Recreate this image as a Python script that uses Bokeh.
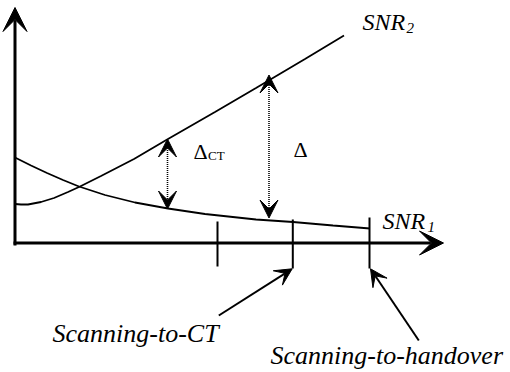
from bokeh.plotting import figure
from bokeh.models import Range1d, Arrow, VeeHead, ColumnDataSource
from bokeh.core.properties import value
from bokeh.embed import file_html
from bokeh.resources import INLINE

# ---- data (schematic units, origin at the axes corner) ----
snr1_x = [0, 16, 32, 48, 64, 90, 120, 153, 190, 241, 278, 318, 355]
snr1_y = [85.5, 77.5, 70, 63, 56.5, 48, 40.5, 34.5, 29, 23.5, 21, 17.5, 14.5]

snr2_x = [0, 6, 13, 26, 39, 53, 64, 86, 119, 153, 200, 241, 290, 329]
snr2_y = [39, 38.5, 38.5, 41, 45, 51, 56, 67, 84, 104, 131, 155, 184, 207.5]

tick_x = [202.5, 277.8, 354.5]
tick_top = [21.5, 23.5, 25.5]
tick_bottom = [-23.5, -25.5, -25.5]

axis_x0 = [0, -1.5]
axis_y0 = [-2.5, 0]
axis_x1 = [0, 428.5]
axis_y1 = [235.5, 0]

delta_x = [152.5, 254]
delta_top = [104, 168]
delta_bottom = [34, 25]

label_arrow_x0 = [203.8, 403.8]
label_arrow_y0 = [-72.5, -97.5]
label_arrow_x1 = [277.2, 355.5]
label_arrow_y1 = [-25.8, -25.8]

FONT = value("Liberation Serif")

p = figure(width=510, height=372, output_backend="svg", toolbar_location=None,
           x_range=Range1d(-14.5, 495.5), y_range=Range1d(-129.5, 242.5),
           min_border=0, min_border_left=0, min_border_right=0,
           min_border_top=0, min_border_bottom=0)
p.xaxis.visible = False
p.yaxis.visible = False
p.grid.visible = False
p.outline_line_color = None
p.background_fill_color = "white"
p.border_fill_color = "white"

# curves
p.line(snr1_x, snr1_y, line_color="black", line_width=1.8)
p.line(snr2_x, snr2_y, line_color="black", line_width=1.8)

# ticks
p.segment(x0=tick_x, y0=tick_bottom, x1=tick_x, y1=tick_top,
          line_color="black", line_width=2)

# axes with arrow heads
axes_src = ColumnDataSource(dict(x0=axis_x0, y0=axis_y0, x1=axis_x1, y1=axis_y1))
p.add_layout(Arrow(source=axes_src, x_start="x0", y_start="y0", x_end="x1", y_end="y1",
                   line_width=3, line_color="black",
                   end=VeeHead(size=24, fill_color="black", line_color="black", line_width=1)))

# dotted delta arrows
delta_src = ColumnDataSource(dict(x=delta_x, top=delta_top, bottom=delta_bottom))
p.add_layout(Arrow(source=delta_src, x_start="x", y_start="bottom", x_end="x", y_end="top",
                   line_width=1.6, line_color="black", line_dash="1 1",
                   start=VeeHead(size=18, fill_color="black", line_color="black", line_width=1),
                   end=VeeHead(size=18, fill_color="black", line_color="black", line_width=1)))

# label arrows
lab_src = ColumnDataSource(dict(x0=label_arrow_x0, y0=label_arrow_y0,
                                x1=label_arrow_x1, y1=label_arrow_y1))
p.add_layout(Arrow(source=lab_src, x_start="x0", y_start="y0", x_end="x1", y_end="y1",
                   line_width=2, line_color="black",
                   end=VeeHead(size=17, fill_color="black", line_color="black", line_width=1)))

def txt(x, y, s, size, style="normal"):
    p.text(x=[x], y=[y], text=[s], text_font=FONT, text_font_size=f"{size}px",
           text_font_style=style, text_align="left", text_baseline="alphabetic",
           text_color="black")

# curve labels
txt(347.5, 221.5, "SNR", 24, "italic")
txt(391.5, 215.5, "2", 15, "italic")
txt(367.5, 22.5, "SNR", 24, "italic")
txt(412.5, 16.5, "1", 15, "italic")

# delta labels
txt(178.5, 92, "Δ", 22)
txt(193, 87.5, "CT", 13)
txt(278.5, 94, "Δ", 22)

# threshold labels
txt(37.5, -90.5, "Scanning-to-CT", 26, "italic")
txt(255.5, -112.5, "Scanning-to-handover", 26, "italic")

open("out.html", "w").write(file_html(p, INLINE))
